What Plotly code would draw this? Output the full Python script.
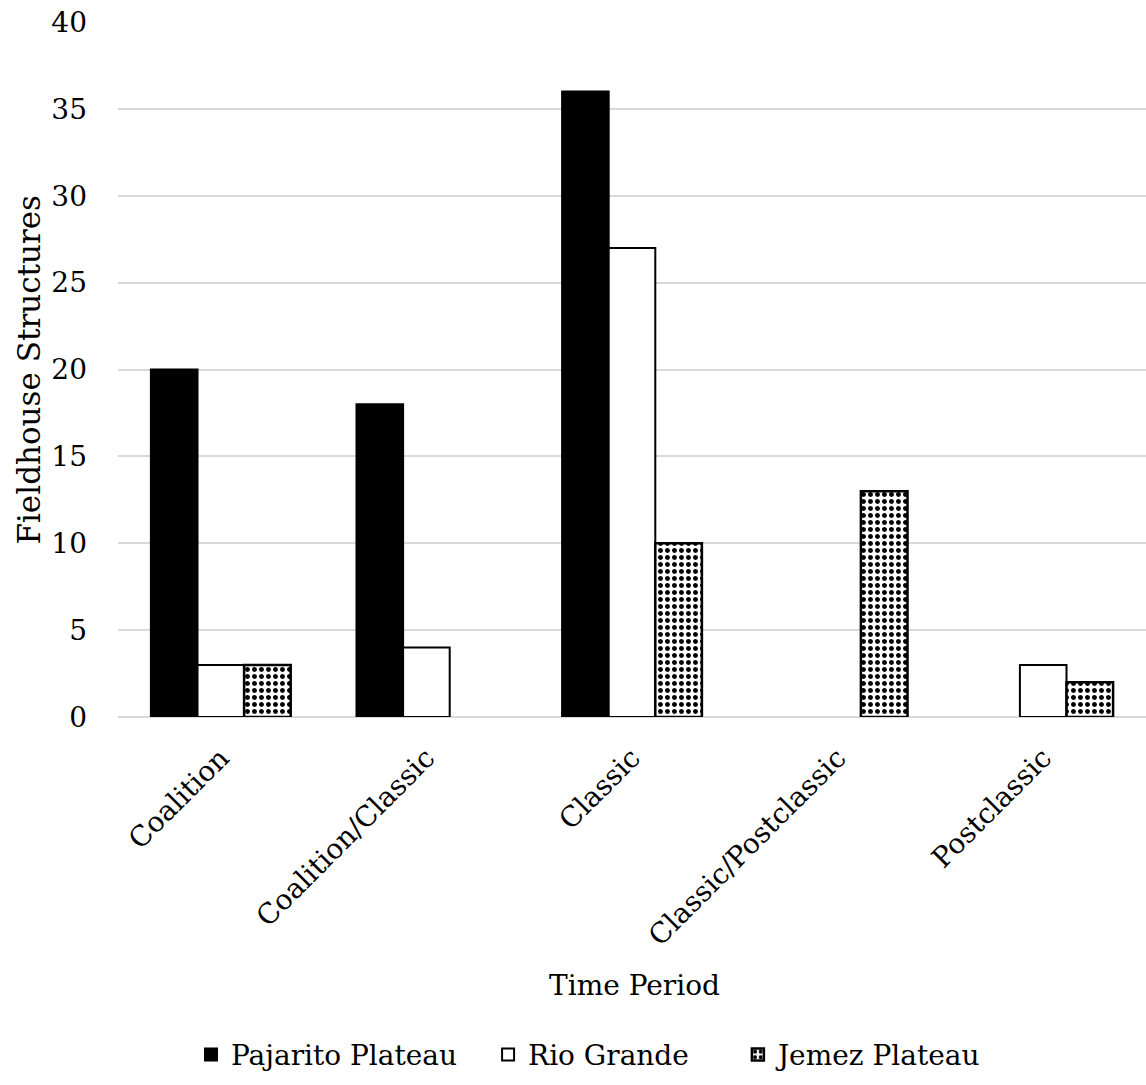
import plotly.graph_objects as go

periods = ["Coalition", "Coalition/Classic", "Classic", "Classic/Postclassic", "Postclassic"]
pajarito = [20, 18, 36, 0, 0]
rio_grande = [3, 4, 27, 0, 3]
jemez = [3, 0, 10, 13, 2]

font_family = "DejaVu Serif, Liberation Serif, serif"
fs = 28


def outline(values, width):
    # no outline on empty bars so zero counts leave only the baseline
    return [width if v else 0 for v in values]


fig = go.Figure()
fig.add_trace(go.Bar(
    x=periods, y=pajarito, name="Pajarito Plateau", legend="legend",
    marker=dict(color="black", line=dict(color="black", width=outline(pajarito, 2))),
))
fig.add_trace(go.Bar(
    x=periods, y=rio_grande, name="Rio Grande", legend="legend2",
    marker=dict(color="white", line=dict(color="black", width=outline(rio_grande, 2))),
))
fig.add_trace(go.Bar(
    x=periods, y=jemez, name="Jemez Plateau", legend="legend3",
    marker=dict(color="white", line=dict(color="black", width=outline(jemez, 2.5)),
                pattern=dict(shape=".", fgcolor="black", bgcolor="white",
                             size=7, solidity=0.4, fillmode="replace")),
))

legend_style = dict(orientation="h", xanchor="left", y=-0.486, yanchor="middle",
                    font=dict(size=fs), itemwidth=30, bgcolor="rgba(0,0,0,0)")

fig.update_layout(
    width=1146, height=1085,
    margin=dict(l=118, r=0, t=22, b=368),
    paper_bgcolor="white", plot_bgcolor="white",
    barmode="group", bargap=0.32, bargroupgap=0,
    font=dict(family=font_family, size=fs, color="black"),
    showlegend=True,
    legend=dict(x=0.071, **legend_style),
    legend2=dict(x=0.360, **legend_style),
    legend3=dict(x=0.603, **legend_style),
    xaxis=dict(
        tickangle=-45, tickfont=dict(size=fs),
        showgrid=False, showline=False, ticks="",
        ticklabelstandoff=18, automargin=False,
    ),
    yaxis=dict(
        range=[0, 40], dtick=5, tickfont=dict(size=fs),
        showgrid=True, gridcolor="#d9d9d9", gridwidth=2,
        zeroline=True, zerolinecolor="#d9d9d9", zerolinewidth=2,
        showline=False, ticks="", ticklabelstandoff=30, automargin=False,
    ),
    annotations=[
        dict(text="Time Period", xref="paper", yref="paper",
             x=(634 - 118) / 1028, y=-0.386, xanchor="center", yanchor="middle",
             showarrow=False, font=dict(size=fs)),
        dict(text="Fieldhouse Structures", xref="paper", yref="paper",
             x=-0.0875, y=0.5, xanchor="center", yanchor="middle", textangle=-90,
             showarrow=False, font=dict(size=31)),
    ],
)

fig.write_html("out.html")
